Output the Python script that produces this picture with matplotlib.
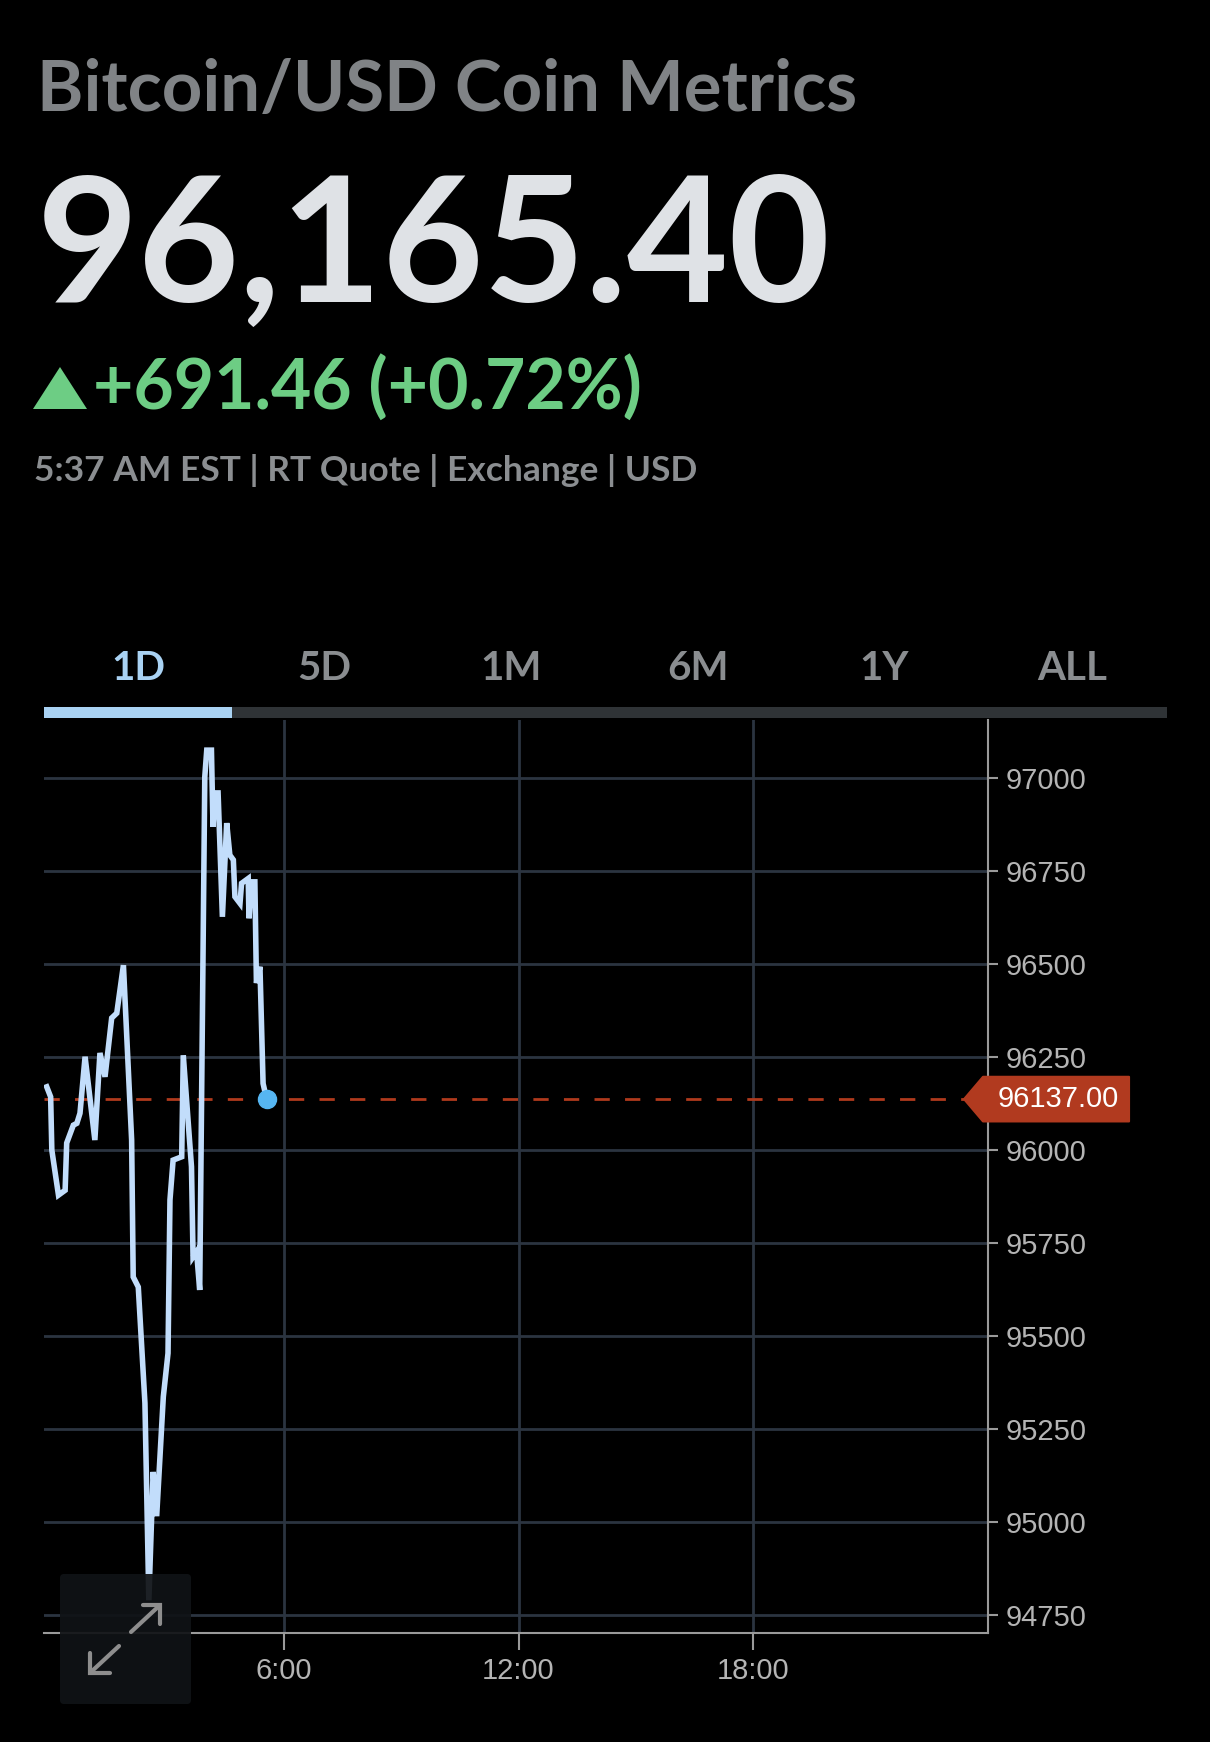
import matplotlib
matplotlib.use('Agg')
import matplotlib.pyplot as plt
import matplotlib.transforms as mtransforms
from matplotlib.patches import Polygon, FancyBboxPatch, Rectangle

# Datos del grafico ------------------------------------------------------------------

hours = [-0.06, 0.04, 0.07, 0.24, 0.41, 0.45, 0.62, 0.71, 0.79, 0.92, 1.17, 1.30,
         1.43, 1.60, 1.73, 1.90, 2.11, 2.15, 2.28, 2.45, 2.55, 2.66, 2.75, 2.92,
         3.04, 3.09, 3.17, 3.39, 3.43, 3.64, 3.68, 3.77, 3.85, 3.98, 4.03, 4.15,
         4.19, 4.24, 4.32, 4.43, 4.54, 4.62, 4.71, 4.75, 4.88, 4.92, 5.09, 5.11,
         5.17, 5.26, 5.30, 5.39, 5.47, 5.56]
prices = [96170, 96143, 96000, 95879, 95892, 96019, 96067, 96072, 96099, 96251, 96027, 96261,
          96197, 96355, 96368, 96497, 96027, 95659, 95632, 95320, 94790, 95135, 95016, 95337,
          95454, 95866, 95973, 95982, 96255, 95955, 95713, 95727, 95624, 97003, 97075, 97075,
          96869, 96960, 96960, 96627, 96879, 96793, 96780, 96681, 96663, 96717, 96730, 96623,
          96721, 96721, 96449, 96493, 96179, 96137]

y_ticks = [94750, 95000, 95250, 95500, 95750, 96000, 96250, 96500, 96750, 97000]
x_ticks = [6, 12, 18]
x_tick_labels = ['6:00', '12:00', '18:00']
tabs = ['1D', '5D', '1M', '6M', '1Y', 'ALL']

title = 'Bitcoin/USD Coin Metrics'
last_price = '96,165.40'
change = '+691.46 (+0.72%)'
quote_info = '5:37 AM EST | RT Quote | Exchange | USD'

W, H = 1210, 1742
FONT = ['Lato', 'DejaVu Sans']
TICK_FONT = ['Liberation Sans', 'DejaVu Sans']


def fit(fig, t, width):
    # ajusta el tamano de letra para que el texto ocupe 'width' pixeles
    r = fig.canvas.get_renderer()
    for _ in range(2):
        bb = t.get_window_extent(renderer=r)
        t.set_fontsize(t.get_fontsize() * width / bb.width)


def main():
    fig = plt.figure(figsize=(W / 100, H / 100), dpi=100, facecolor='black')

# Grafico de precios -----------------------------------------------------------------
    ax = fig.add_axes([44 / W, 1 - 1633 / H, (988 - 44) / W, (1633 - 720) / H])
    ax.set_facecolor('black')
    ax.set_xlim(-0.13, 24)
    ax.set_ylim(94702, 97156)

    for v in y_ticks:
        ax.axhline(v, color='#2b3440', lw=2, zorder=1)
    for h in x_ticks:
        ax.axvline(h, color='#2b3440', lw=2, zorder=1)

    ax.plot(hours, prices, color='#c2ddfb', lw=4, zorder=3, solid_joinstyle='miter')
    ax.plot(hours[-1], prices[-1], 'o', color='#56b6f2', ms=13, zorder=4)
    ax.axhline(prices[-1], xmax=0.975, color='#b03a1d', lw=2, ls=(0, (5.5, 5.5)), zorder=2)

    ax.yaxis.tick_right()
    ax.set_yticks(y_ticks)
    ax.set_yticklabels([str(v) for v in y_ticks])
    ax.set_xticks(x_ticks)
    ax.set_xticklabels(x_tick_labels)
    ax.tick_params(axis='y', colors='#9a9a9a', labelcolor='#b4b4b4', length=7, width=1.5,
                   pad=6, labelsize=21)
    ax.tick_params(axis='x', colors='#9a9a9a', labelcolor='#b4b4b4', length=12, width=1.5,
                   pad=5, labelsize=21)
    for lab in ax.get_xticklabels() + ax.get_yticklabels():
        lab.set_family(TICK_FONT)
    for s in ['top', 'left']:
        ax.spines[s].set_visible(False)
    for s in ['right', 'bottom']:
        ax.spines[s].set_color('#9a9a9a')
        ax.spines[s].set_linewidth(1.5)

# Etiqueta del ultimo precio -----------------------------------------------------------
    tr = mtransforms.blended_transform_factory(ax.transAxes, ax.transData)
    half = 60
    p = prices[-1]
    tag = Polygon([(0.9746, p), (0.9947, p + half), (1.1494, p + half),
                   (1.1494, p - half), (0.9947, p - half)], closed=True,
                  facecolor='#b13a1f', edgecolor='#b13a1f', lw=1.5, joinstyle='round',
                  transform=tr, clip_on=False, zorder=5)
    ax.add_patch(tag)
    ax.text(1.074, p, f'{p:.2f}', transform=tr, color='white', fontsize=21,
            family=TICK_FONT, ha='center', va='center', clip_on=False, zorder=6)

# Encabezado y pestanas (coordenadas en pixeles) --------------------------------------
    ov = fig.add_axes([0, 0, 1, 1])
    ov.set_xlim(0, W)
    ov.set_ylim(H, 0)
    ov.axis('off')
    ov.patch.set_visible(False)

    t1 = ov.text(37, 111, title, color='#808386', fontsize=50, fontweight='bold',
                 family=FONT, va='baseline')
    t2 = ov.text(37, 302, last_price, color='#dfe2e6', fontsize=120, fontweight='bold',
                 family=FONT, va='baseline')
    ov.add_patch(Polygon([(33, 409), (60, 367), (87, 409)], closed=True,
                         facecolor='#6dcd84', edgecolor='none'))
    t3 = ov.text(93, 409, change, color='#6dcd84', fontsize=42, fontweight='bold',
                 family=FONT, va='baseline')
    t4 = ov.text(34, 481, quote_info, color='#8b8e91', fontsize=24, fontweight='bold',
                 family=FONT, va='baseline')
    fit(fig, t1, 820)
    fit(fig, t2, 794)
    fit(fig, t3, 549)
    fit(fig, t4, 664)

    tab_x = [138, 324, 511, 698, 884, 1072]
    for i, (x, name) in enumerate(zip(tab_x, tabs)):
        ov.text(x, 680, name, color='#a9d2f3' if i == 0 else '#8a8d90', fontsize=29,
                fontweight='bold', family=FONT, ha='center', va='baseline')
    ov.add_patch(Rectangle((44, 707), 1167 - 44, 11, facecolor='#2f3336', edgecolor='none'))
    ov.add_patch(Rectangle((44, 707), 232 - 44, 11, facecolor='#a9d2f3', edgecolor='none'))

# Boton de expandir ---------------------------------------------------------------------
    ov.add_patch(FancyBboxPatch((60, 1574), 131, 130, boxstyle='round,pad=0,rounding_size=4',
                                facecolor='#101316', edgecolor='none', alpha=0.93))
    arrow_style = dict(color='#8e8e8e', lw=3, solid_capstyle='round', solid_joinstyle='miter')
    ov.plot([131, 159], [1632, 1606], **arrow_style)
    ov.plot([143, 160, 160], [1605, 1605, 1624], **arrow_style)
    ov.plot([119, 91], [1646, 1672], **arrow_style)
    ov.plot([90, 90, 110], [1653, 1673, 1673], **arrow_style)

    plt.savefig('out.png', dpi=100, facecolor='black')


if __name__ == '__main__':
    main()
